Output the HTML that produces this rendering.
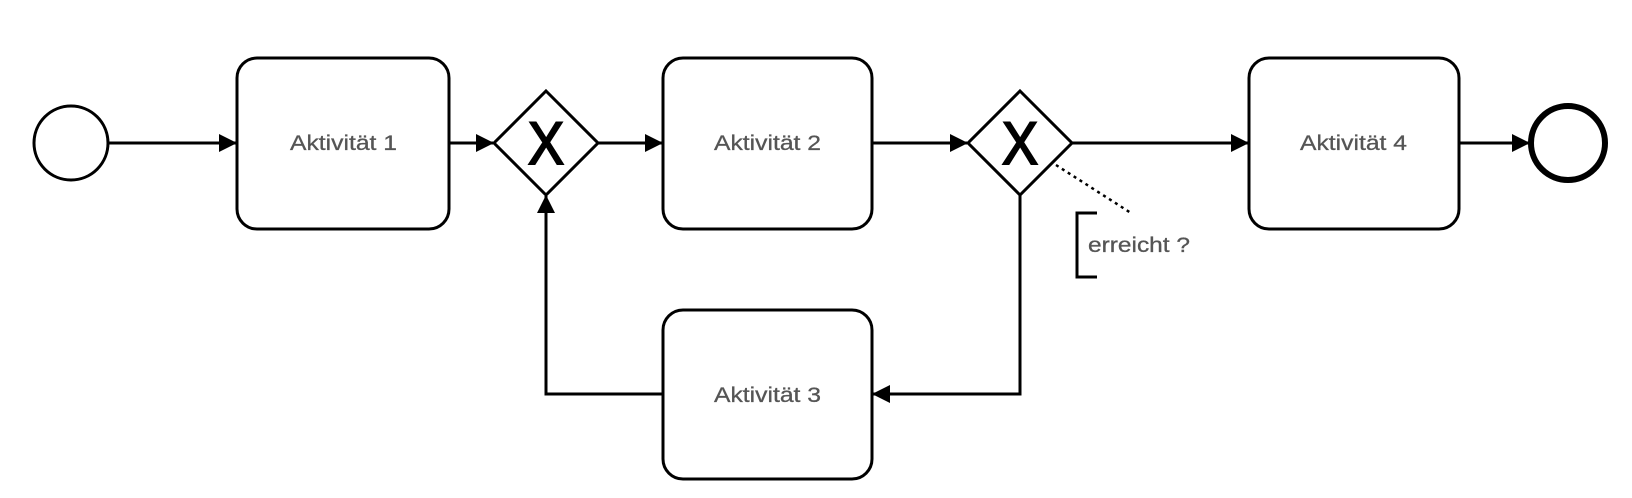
<!DOCTYPE html>
<html><head><meta charset="utf-8"><style>
html,body{margin:0;padding:0;background:#fff}
svg{display:block}
.t{font-family:"Liberation Sans",sans-serif;font-size:21px;fill:#555;stroke:#555;stroke-width:0.3}
.x{font-family:"Liberation Sans",sans-serif;font-size:60px;fill:#000;stroke:#000;stroke-width:2}
</style></head><body>
<svg width="1632" height="498" viewBox="0 0 1632 498" xmlns="http://www.w3.org/2000/svg">
<defs>
<marker id="a" markerWidth="20" markerHeight="20" refX="17" refY="9" orient="auto" markerUnits="userSpaceOnUse">
<path d="M0,0 L18,9 L0,18 Z" fill="#000"/>
</marker>
</defs>
<g fill="none" stroke="#000" stroke-width="3">
<circle cx="71" cy="143" r="37" fill="#fff"/>
<circle cx="1568" cy="143" r="37" stroke-width="6" fill="#fff"/>
<rect x="237" y="58" width="212" height="171" rx="20" fill="#fff"/>
<rect x="663" y="58" width="209" height="171" rx="20" fill="#fff"/>
<rect x="663" y="310" width="209" height="169" rx="20" fill="#fff"/>
<rect x="1249" y="58" width="210" height="171" rx="20" fill="#fff"/>
<path d="M546,91 L598,143 L546,195 L494,143 Z" fill="#fff"/>
<path d="M1020,91 L1072,143 L1020,195 L968,143 Z" fill="#fff"/>
<line x1="108" y1="143" x2="236" y2="143" marker-end="url(#a)"/>
<line x1="449" y1="143" x2="493" y2="143" marker-end="url(#a)"/>
<line x1="598" y1="143" x2="662" y2="143" marker-end="url(#a)"/>
<line x1="872" y1="143" x2="967" y2="143" marker-end="url(#a)"/>
<line x1="1072" y1="143" x2="1248" y2="143" marker-end="url(#a)"/>
<line x1="1459" y1="143" x2="1529" y2="143" marker-end="url(#a)"/>
<polyline points="1020,195 1020,394 873,394" marker-end="url(#a)"/>
<polyline points="663,394 546,394 546,196" marker-end="url(#a)"/>
<line x1="1056" y1="165" x2="1131" y2="213" stroke-dasharray="3,4" stroke-width="2.5"/>
<polyline points="1097,213 1077,213 1077,277 1097,277"/>
</g>
<text class="x" x="546" y="164" text-anchor="middle" textLength="36" lengthAdjust="spacingAndGlyphs">X</text>
<text class="x" x="1020" y="164" text-anchor="middle" textLength="36" lengthAdjust="spacingAndGlyphs">X</text>
<text class="t" x="290" y="150" textLength="107" lengthAdjust="spacingAndGlyphs">Aktivität 1</text>
<text class="t" x="714" y="150" textLength="107" lengthAdjust="spacingAndGlyphs">Aktivität 2</text>
<text class="t" x="714" y="402" textLength="107" lengthAdjust="spacingAndGlyphs">Aktivität 3</text>
<text class="t" x="1300" y="150" textLength="107" lengthAdjust="spacingAndGlyphs">Aktivität 4</text>
<text class="t" x="1088" y="252" textLength="102" lengthAdjust="spacingAndGlyphs">erreicht ?</text>
</svg>
</body></html>
